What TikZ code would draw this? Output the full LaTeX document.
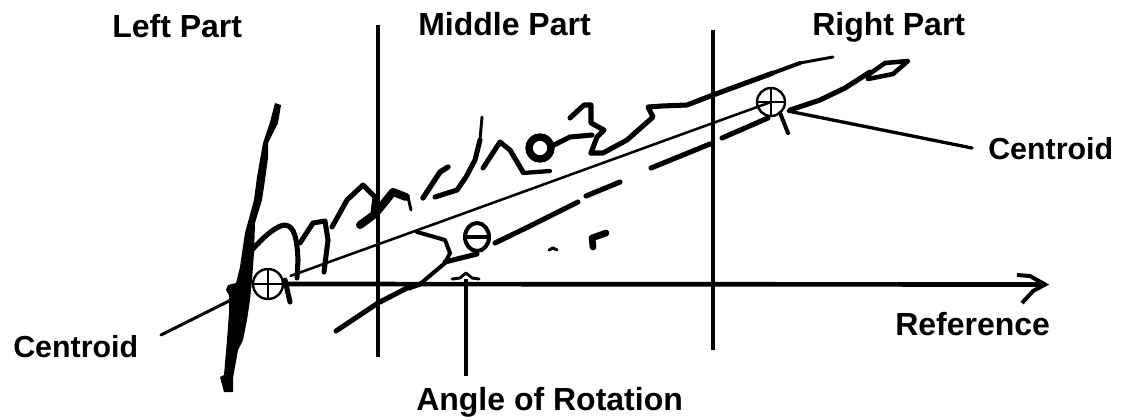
\documentclass[tikz,border=0pt]{standalone}
\usepackage{fontspec}
\setmainfont{Liberation Sans}
\usetikzlibrary{arrows.meta}
\tikzset{
  x=0.75pt,y=-0.75pt,
  lbl/.style={font=\fontsize{24pt}{26pt}\selectfont\bfseries,inner sep=0pt,text=black,anchor=base west},
  clbl/.style={font=\fontsize{22.8pt}{26pt}\selectfont\bfseries,inner sep=0pt,text=black,anchor=base west},
  ax/.style={line width=3.5pt,black},
  ink/.style={line width=3.8pt,black,line join=round,line cap=round},
  fine/.style={line width=2.2pt,black,line cap=round,line join=round},
  thinline/.style={line width=1.8pt,black}
}
\begin{document}
\begin{tikzpicture}
\useasboundingbox (0,0) rectangle (1123,419);
% labels
\node[lbl] (lp) at (112,37) {Left Part};
\node[lbl] (mp) at (418,35) {Middle Part};
\node[lbl] (rp) at (812,35) {Right Part};
\node[clbl] (c2) at (988,159) {Centroid};
\node[clbl] (c1) at (13,357) {Centroid};
\node[lbl] (rf) at (895,335) {Reference};
\node[lbl] (ar) at (416,410) {Angle of Rotation};
% coordinates
\coordinate (cl) at (268,284);
\coordinate (cr) at (771,102);
\coordinate (tip) at (1045,284.5);
% axes
\draw[ax] (378,25) -- (378,357);
\draw[ax] (713,30) -- (713,350);
\draw[ax] (283,284) -- (tip);
\draw[line width=3pt,line join=miter] (1017,275) -- (1030,276) -- (tip) -- (1033,291) -- (1022,303);
\draw[ax] (466,279) -- (466,376);
\draw[fine] (452,279) -- (460,278) -- (466,273) -- (472,278) -- (479,279);
% centroids
\draw[thinline] (cl) circle[radius=15];
\draw[thinline] (253,284) -- (283,284) (268,269) -- (268,299);
\draw[thinline] (cr) circle[radius=14];
\draw[thinline] (757,102) -- (785,102) (771,88) -- (771,116);
% connecting lines
\draw[fine,line width=1.9pt,shorten <=18] (cl) -- (440,222) -- (713,123) -- (cr);
\draw[fine,line width=2.5pt] (788,111) -- (972,148);
\draw[fine] (161,335) -- (235,298);
% heavy stroke
\fill (275,103) -- (281,105) -- (278,123) -- (268,143) -- (268,158) -- (265,180) -- (262,200) -- (255,223) -- (254,253) -- (252,280) -- (250,300) -- (247,320) -- (243,340) -- (238,350) -- (233,378) -- (233,392) -- (224,392) -- (220,377) -- (224,375) -- (227,340) -- (229,313) -- (229,295) -- (226,290) -- (228,285) -- (236,283) -- (240,267) -- (245,233) -- (254,200) -- (257,177) -- (263,143) -- (270,122) -- cycle;
% signature
\draw[ink] (252,250) .. controls (265,235) and (278,225) .. (285,225) .. controls (295,226) and (297,240) .. (298,260) -- (297,278);
\draw[ink] (285,280) -- (290,302);
\draw[ink] (300,243) -- (313,223) -- (325,221) -- (328,240) -- (324,272);
\draw[ink] (332,227) -- (347,200) -- (363,185) -- (375,197) -- (373,213);
\draw[line width=6pt,line cap=round,line join=round] (360,225) -- (375,214) -- (393,192) -- (406,197);
\draw[fine] (408,197) -- (411,210);
\draw[line width=4pt,line cap=round,line join=round] (423,198) -- (440,172) -- (448,167);
\draw[ink] (435,197) -- (457,190) -- (466,177) -- (475,160) -- (480,140);
\draw[fine] (480,140) -- (482,117);
\draw[ink] (483,168) -- (500,142) -- (510,150) -- (523,172);
\draw[line width=3.2pt,line cap=round] (523,173) -- (550,171);
\draw[line width=5.5pt] (540,148) ellipse[x radius=11,y radius=11];
\draw[ink] (552,146) -- (570,137) -- (592,135);
\draw[ink] (570,118) -- (584,105) -- (591,105) -- (591,123) -- (604,130) -- (597,137) -- (591,153);
\draw[ink] (591,153) -- (603,153) -- (627,140) -- (653,117) -- (648,107) -- (662,106) -- (687,105) -- (713,95) -- (773,73);
\draw[fine,line width=3pt] (773,73) -- (800,63);
\draw[fine] (800,63) -- (833,57);
\draw[ink] (336,331) -- (378,303) -- (407,288);
\draw[fine,line width=3pt] (417,232) -- (445,240) -- (450,253) -- (445,263) -- (420,284);
\draw[ink] (420,284) -- (409,288);
\draw[ink] (445,262) -- (477,254);
% theta
\draw[line width=3pt] (477,237) ellipse[x radius=12,y radius=14];
\draw[line width=3pt] (465,237) -- (489,237);
% dashes
\draw[ink] (495,243) -- (530,226) -- (578,202);
\draw[ink] (586,196) -- (620,182);
\draw[ink] (651,168) -- (710,144);
\draw[ink] (722,138) -- (768,118);
\draw[ink] (790,110) -- (820,100) -- (845,88) -- (870,72);
\draw[line width=3.4pt,line join=round] (868,75) -- (885,63) -- (908,61) -- (893,74) -- (868,79) -- cycle;
\draw[fine,line width=3pt] (780,113) -- (788,133);
% dots
\draw[fine] (549,250) -- (553,248) -- (557,250);
\draw[line width=5pt,line cap=round,line join=round] (593,247) -- (592,238) -- (606,233);
\end{tikzpicture}
\end{document}
